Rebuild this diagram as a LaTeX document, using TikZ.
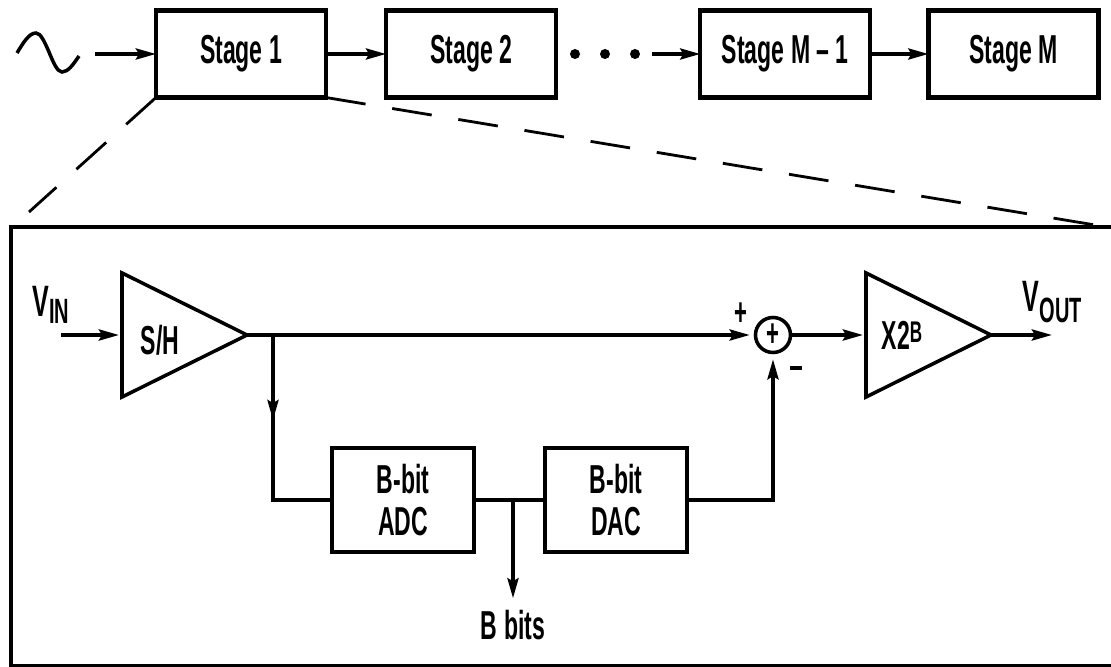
\documentclass[tikz,border=0pt]{standalone}
\usepackage{fontspec}
\setmainfont{Liberation Sans}[FakeStretch=0.57]
\usepackage{tikz}
\usetikzlibrary{arrows.meta, positioning, shapes.geometric, decorations.markings}

\newcommand{\blkfont}{\fontsize{11.5}{12}\selectfont\bfseries}

\begin{document}
\begin{tikzpicture}[
    x=0.01cm, y=-0.01cm,
    stage/.style={draw, line width=1.2pt, minimum width=1.70cm, minimum height=0.87cm, inner sep=0pt, outer sep=0pt, font=\blkfont},
    blk/.style={draw, line width=1.1pt, minimum width=1.42cm, minimum height=1.04cm, inner sep=0pt, outer sep=0pt, align=center, font=\blkfont},
    amp/.style={draw, line width=1pt, isosceles triangle, isosceles triangle stretches, minimum width=1.24cm, minimum height=1.25cm, inner sep=0pt, outer sep=0pt},
    dot/.style={circle, fill, minimum size=0.1cm, inner sep=0pt},
    arr/.style={-{Stealth[length=0.2cm, width=0.11cm, inset=0.03cm]}, line width=1pt},
    midarr/.style={line width=1pt, postaction={decorate}, decoration={markings, mark=at position 0.85cm with {\arrow{Stealth[length=0.2cm, width=0.11cm, inset=0.03cm]}}}},
    zoomln/.style={line width=0.8pt, dash pattern=on 0.4cm off 0.27cm},
    lbl/.style={font=\blkfont},
    sgn/.style={inner sep=0pt, font=\fontsize{11}{11}\selectfont\bfseries},
]
\useasboundingbox (0,0) rectangle (1111,667);

% pipeline of stages
\draw[line width=1pt] (17,53) sin (36,33) cos (49,52) sin (62,72) cos (79,56);
\coordinate (src) at (95,54);
\node[stage] (st1) at (241,54) {Stage 1};
\node[stage, right=0.6cm of st1] (st2) {Stage 2};
\node[stage, right=1.44cm of st2] (stm1) {Stage M -- 1};
\node[stage, right=0.58cm of stm1] (stm) {Stage M};
\foreach \i/\x in {1/575, 2/605, 3/635}
    \node[dot] (d\i) at (\x,54) {};

\draw[arr] (src) -- (st1);
\draw[arr] (st1) -- (st2);
\draw[arr, shorten <=0.11cm] (d3) -- (stm1);
\draw[arr] (stm1) -- (stm);

% zoom onto stage 1
\coordinate (zl) at (29,212);
\coordinate (zr) at (1095,225);
\draw[zoomln] (st1.south west) -- (zl);
\draw[zoomln] (st1.south east) -- (zr);
\draw[line width=1.2pt] (11,227) rectangle (1125,666);

% inside one stage
\node[amp, anchor=lower side] (sh) at (122,335) {};
\node[lbl, anchor=base] (shtxt) at (160,355) {S/H};
\node[draw, circle, line width=1pt, minimum size=0.35cm, inner sep=0pt, font=\fontsize{11}{11}\selectfont\bfseries] (sum) at (773,335) {+};
\node[amp, anchor=lower side] (gain) at (866,335) {};
\node[lbl, anchor=base] (gaintxt) at (902,350) {X2\raisebox{0.07cm}{\fontsize{8.5}{8}\selectfont B}};
\node[blk] (adc) at (403,500) {B-bit\\ADC};
\node[blk] (dac) at (616,500) {B-bit\\DAC};
\node[lbl, anchor=base] (bbits) at (513,640) {B bits};

\node[anchor=base west, inner sep=0pt, font=\bfseries] (vin) at (32,317) {\fontsize{12.5}{12}\selectfont V\raisebox{-0.06cm}{\fontsize{10}{10}\selectfont IN}};
\node[anchor=base west, inner sep=0pt, font=\bfseries] (vout) at (1022,312) {\fontsize{12.5}{12}\selectfont V\raisebox{-0.1cm}{\fontsize{10}{10}\selectfont OUT}};
\node[sgn] (plus) at (741,314) {+};
\node[sgn] (minus) at (796,368) {\rule{0.12cm}{0.04cm}};

\coordinate (vi) at (61,335);
\coordinate (vo) at (1052,335);
\coordinate (br) at (273,335);
\coordinate (jn) at (513,500);

\draw[arr, shorten >=0.03cm] (vi) -- (sh.lower side);
\draw[arr, shorten >=0.04cm] (sh.apex) -- (sum);
\draw[arr, shorten >=0.03cm] (sum) -- (gain.lower side);
\draw[arr] (gain.apex) -- (vo);
\draw[midarr] (br) |- (adc.west);
\draw[line width=1pt] (adc) -- (dac);
\draw[arr] (jn) -- (bbits);
\draw[arr, shorten >=0.05cm] (dac.east) -| (sum.south);

\end{tikzpicture}
\end{document}
